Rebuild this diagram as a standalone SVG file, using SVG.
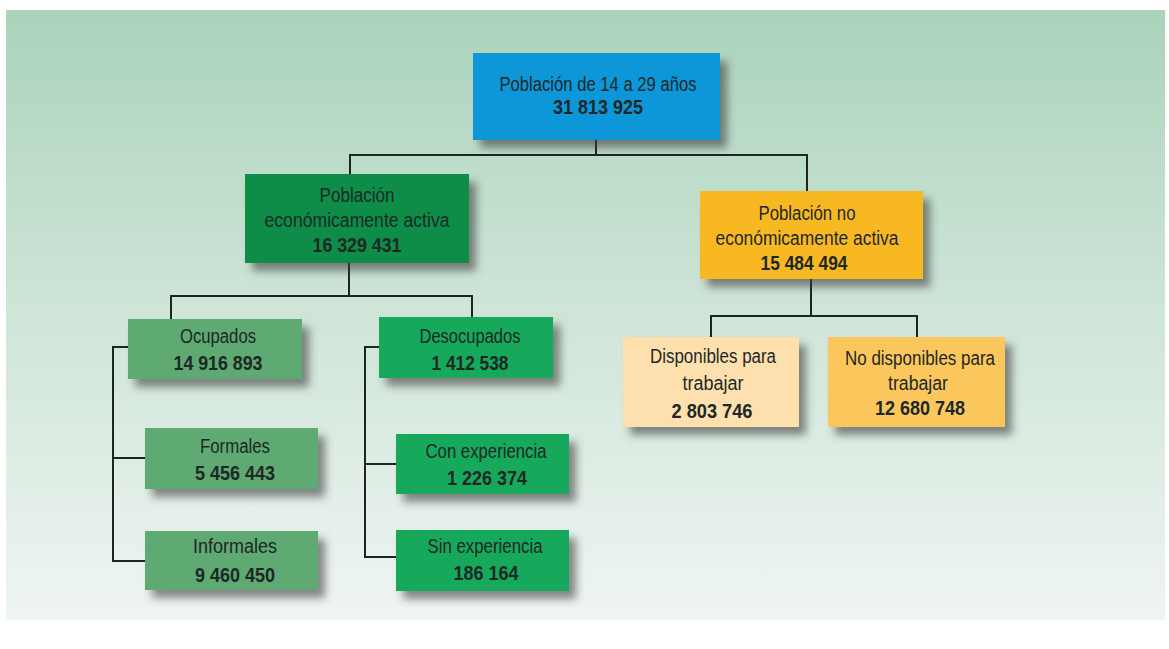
<svg xmlns="http://www.w3.org/2000/svg" width="1169" height="649" viewBox="0 0 1169 649">
<defs>
<linearGradient id="bg" x1="0" y1="0" x2="0" y2="1">
<stop offset="0" stop-color="#aad3ba"/>
<stop offset="0.5" stop-color="#cfe5d8"/>
<stop offset="1" stop-color="#eff5f2"/>
</linearGradient>
<filter id="sh" x="-20%" y="-20%" width="150%" height="160%">
<feDropShadow dx="7" dy="8" stdDeviation="4.5" flood-color="#3a3a3a" flood-opacity="0.6"/>
</filter>
</defs>
<style>
text{font-family:"Liberation Sans",Arial,sans-serif;font-size:20px;fill:#1c2826;text-anchor:middle}
.b{font-weight:bold}
.box{filter:url(#sh)}
.con{fill:none;stroke:#1e2422;stroke-width:2}
</style>
<rect x="0" y="0" width="1169" height="649" fill="#ffffff"/>
<rect x="6" y="10" width="1159" height="610" fill="url(#bg)"/>
<g id="connectors" class="con">
<path d="M596 140V155M350 174V155H807V191"/>
<path d="M349 263V296M171 319V296H472V317"/>
<path d="M128 347H113V561H145M113 458H145"/>
<path d="M379 347H365V557H396M365 464H396"/>
<path d="M811 279V316M711 337V316H917V337"/>
</g>
<g id="n-total">
<rect class="box" x="473" y="53" width="247" height="87" fill="#0a97d9"/>
<text x="598" y="91" textLength="197" lengthAdjust="spacingAndGlyphs">Población de 14 a 29 años</text>
<text class="b" x="598" y="114" textLength="90" lengthAdjust="spacingAndGlyphs">31 813 925</text>
</g>
<g id="n-pea">
<rect class="box" x="245" y="174" width="224" height="89" fill="#0f8d46"/>
<text x="357" y="202" textLength="75" lengthAdjust="spacingAndGlyphs">Población</text>
<text x="357" y="227" textLength="185" lengthAdjust="spacingAndGlyphs">económicamente activa</text>
<text class="b" x="357" y="252" textLength="89" lengthAdjust="spacingAndGlyphs">16 329 431</text>
</g>
<g id="n-pnea">
<rect class="box" x="700" y="191" width="223" height="88" fill="#f8b823"/>
<text x="807" y="220" textLength="97" lengthAdjust="spacingAndGlyphs">Población no</text>
<text x="807" y="245" textLength="183" lengthAdjust="spacingAndGlyphs">económicamente activa</text>
<text class="b" x="804" y="270" textLength="87" lengthAdjust="spacingAndGlyphs">15 484 494</text>
</g>
<g id="n-ocupados">
<rect class="box" x="128" y="319" width="174" height="60" fill="#5ea972"/>
<text x="218" y="343" textLength="76" lengthAdjust="spacingAndGlyphs">Ocupados</text>
<text class="b" x="218" y="370" textLength="89" lengthAdjust="spacingAndGlyphs">14 916 893</text>
</g>
<g id="n-desocupados">
<rect class="box" x="379" y="317" width="174" height="61" fill="#13a95b"/>
<text x="470" y="343" textLength="101" lengthAdjust="spacingAndGlyphs">Desocupados</text>
<text class="b" x="470" y="370" textLength="77" lengthAdjust="spacingAndGlyphs">1 412 538</text>
</g>
<g id="n-formales">
<rect class="box" x="145" y="428" width="173" height="61" fill="#5ea972"/>
<text x="235" y="453" textLength="70" lengthAdjust="spacingAndGlyphs">Formales</text>
<text class="b" x="235" y="480" textLength="80" lengthAdjust="spacingAndGlyphs">5 456 443</text>
</g>
<g id="n-informales">
<rect class="box" x="145" y="531" width="173" height="59" fill="#5ea972"/>
<text x="235" y="553" textLength="84" lengthAdjust="spacingAndGlyphs">Informales</text>
<text class="b" x="235" y="582" textLength="80" lengthAdjust="spacingAndGlyphs">9 460 450</text>
</g>
<g id="n-con">
<rect class="box" x="396" y="434" width="173" height="60" fill="#13a95b"/>
<text x="486" y="458" textLength="121" lengthAdjust="spacingAndGlyphs">Con experiencia</text>
<text class="b" x="487" y="485" textLength="80" lengthAdjust="spacingAndGlyphs">1 226 374</text>
</g>
<g id="n-sin">
<rect class="box" x="396" y="530" width="173" height="61" fill="#13a95b"/>
<text x="485" y="553" textLength="115" lengthAdjust="spacingAndGlyphs">Sin experiencia</text>
<text class="b" x="486" y="580" textLength="65" lengthAdjust="spacingAndGlyphs">186 164</text>
</g>
<g id="n-disp">
<rect class="box" x="623" y="337" width="176" height="90" fill="#fde0ae"/>
<text x="713" y="363" textLength="126" lengthAdjust="spacingAndGlyphs">Disponibles para</text>
<text x="713" y="390" textLength="61" lengthAdjust="spacingAndGlyphs">trabajar</text>
<text class="b" x="712" y="418" textLength="81" lengthAdjust="spacingAndGlyphs">2 803 746</text>
</g>
<g id="n-nodisp">
<rect class="box" x="828" y="337" width="177" height="90" fill="#fbc75b"/>
<text x="920" y="365" textLength="150" lengthAdjust="spacingAndGlyphs">No disponibles para</text>
<text x="918" y="390" textLength="60" lengthAdjust="spacingAndGlyphs">trabajar</text>
<text class="b" x="920" y="415" textLength="90" lengthAdjust="spacingAndGlyphs">12 680 748</text>
</g>
</svg>
